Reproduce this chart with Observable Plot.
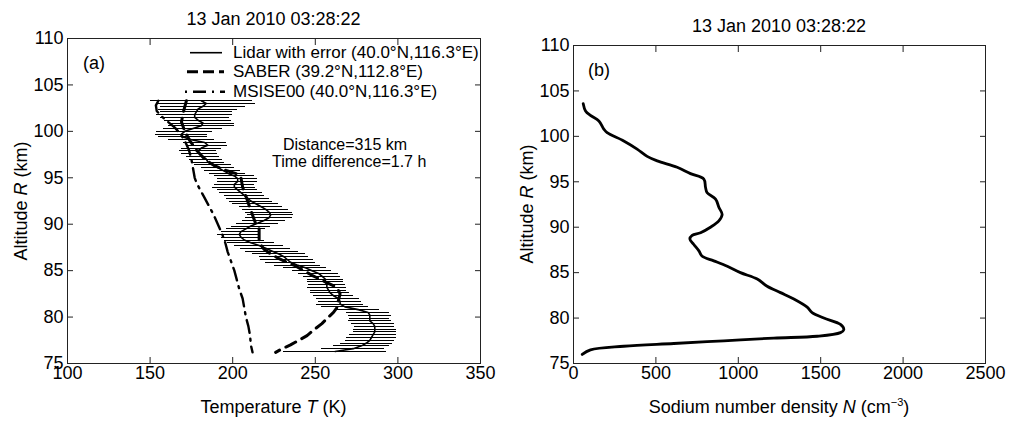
<!DOCTYPE html>
<html><head><meta charset="utf-8">
<script src="https://cdn.jsdelivr.net/npm/d3@7"></script>
<script src="https://cdn.jsdelivr.net/npm/@observablehq/plot@0.6"></script>
<style>
body{margin:0;background:#fff;}
#wrap{position:relative;width:1012px;height:421px;overflow:hidden;font-family:"Liberation Sans",Arial,sans-serif;color:#000;background:#fff;}
.pl{position:absolute;top:0;}
.t{position:absolute;white-space:nowrap;line-height:18px;font-size:18px;}
.s{position:absolute;white-space:nowrap;line-height:16px;font-size:16px;}
.lg{position:absolute;white-space:nowrap;line-height:17px;font-size:17px;}
.rot{position:absolute;white-space:nowrap;font-size:18px;line-height:18px;text-align:center;width:200px;transform:rotate(-90deg);}
</style></head><body><div id="wrap"></div>
<script>
// ---- Panel (a): temperature profiles ----
const lidarAlt = [103.3,103.0,102.7,102.4,102.1,101.8,101.5,101.2,100.9,100.6,100.3,100.0,99.7,99.4,99.1,98.8,98.5,98.2,97.9,97.6,97.3,97.0,96.7,96.4,96.1,95.8,95.5,95.2,94.9,94.6,94.3,94.0,93.7,93.4,93.1,92.8,92.5,92.2,91.9,91.6,91.3,91.0,90.7,90.4,90.1,89.8,89.5,89.2,88.9,88.6,88.3,88.0,87.7,87.4,87.1,86.8,86.5,86.2,85.9,85.6,85.3,85.0,84.7,84.4,84.1,83.8,83.5,83.2,82.9,82.6,82.3,82.0,81.7,81.4,81.1,80.8,80.5,80.2,79.9,79.6,79.3,79.0,78.7,78.4,78.1,77.8,77.5,77.2,76.9,76.6,76.3];
const lidarT = [181,184,182,179,178,177,177,179,182,181,176,171,169,170,175,183,185,181,179,180,182,184,185,188,191,194,197,201,203,203,201,201,203,205,207,209,211,214,217,220,222,223,222,219,215,211,208,205,204,205,207,211,216,220,224,228,231,233,235,239,244,248,252,254,256,256,257,257,258,259,261,264,265,265,268,276,282,283,283,283,285,286,286,286,285,284,283,281,278,273,262];
const lidarErr = [31,30,26,24,22,23,21,20,19,20,18,17,16,15,14,13,12,12,11,11,10,10,10,11,10,11,11,12,12,12,12,13,12,13,12,13,13,14,13,14,14,14,14,13,13,12,12,12,13,12,12,14,15,15,16,16,15,16,15,14,13,12,12,11,11,11,11,12,11,12,12,13,13,14,14,13,13,13,12,13,13,12,13,13,14,15,15,16,17,19,31];

const saberAlt = [103.3,102.0,101.0,100.0,99.0,98.0,97.0,96.3,95.8,95.4,95.0,94.0,93.0,92.0,91.0,90.0,89.5,88.5,88.0,87.3,86.8,86.3,85.5,84.5,83.8,83.2,82.5,81.8,81.0,80.5,80.0,79.3,78.6,78.0,77.5,77.0,76.6,76.2];
const saberT = [172,170,169,171,174,178,183,189,196,203,205,206,208,210,212,214,216,216,216,219,223,228,238,248,256,263,265,264,263,261,258,254,249,245,240,235,230,226];

const msisAlt = [103.3,102.8,102.2,101.6,101.0,100.4,99.8,99.0,98.0,97.0,96.0,95.0,94.5,93.8,93.0,92.0,91.0,90.0,89.0,88.0,87.0,86.0,85.0,84.0,83.0,82.0,81.0,80.0,79.0,78.0,77.0,76.2];
const msisT = [155,153.5,154,157,161,165,168,171,173.5,175,176,177,178,180,182.5,185.5,188.5,191,193.5,195.5,197,199,201,202.5,204,206,207,208,209.5,210.5,211,212];

// ---- Panel (b): sodium number density ----
const naAlt = [103.6,102.8,102.3,101.7,100.8,100.4,99.5,98.6,97.8,97.3,96.6,95.9,95.3,94.4,93.8,93.1,92.2,91.4,90.7,90.0,89.4,89.1,88.7,88.1,87.4,86.8,86.3,85.7,85.0,84.3,83.5,82.8,82.1,81.2,80.6,80.0,79.3,78.7,78.4,78.0,77.8,77.5,77.2,76.9,76.5,76.0];
const naDensity = [59,73,103,154,184,204,305,386,447,508,629,710,791,801,811,862,882,902,882,831,771,720,706,730,761,781,851,933,1013,1115,1175,1256,1337,1418,1448,1519,1620,1640,1620,1479,1215,912,609,305,103,53];

const tempTicks = [100,150,200,250,300,350];
const altTicks = [75,80,85,90,95,100,105,110];
const densTicks = [0,500,1000,1500,2000,2500];

const titleText = "13 Jan 2010 03:28:22";
const legendLabels = ["Lidar with error (40.0°N,116.3°E)","SABER (39.2°N,112.8°E)","MSISE00 (40.0°N,116.3°E)"];

const lidar = lidarAlt.map((a,i)=>({alt:a, T:lidarT[i], err:lidarErr[i]}));
const saber = saberAlt.map((a,i)=>({alt:a, T:saberT[i]}));
const msis = msisAlt.map((a,i)=>({alt:a, T:msisT[i]}));
const sodium = naAlt.map((a,i)=>({alt:a, N:naDensity[i]}));

const fmt = d => String(d);
function boxAxes(xt, yt){
  return [
    Plot.axisX({anchor:"bottom", ticks:xt, tickSize:-6, tickPadding:9, tickFormat:fmt, label:null, stroke:"#222"}),
    Plot.axisX({anchor:"top", ticks:xt, tickSize:-6, tickFormat:()=>"", label:null, stroke:"#222"}),
    Plot.axisY({anchor:"left", ticks:yt, tickSize:-6, tickPadding:10, tickFormat:fmt, label:null, stroke:"#222"}),
    Plot.axisY({anchor:"right", ticks:yt, tickSize:-6, tickFormat:()=>"", label:null, stroke:"#222"}),
    Plot.frame({stroke:"#222", strokeWidth:1})
  ];
}
const style = {fontFamily:"Liberation Sans, Arial, sans-serif", fontSize:"18px", background:"transparent", color:"#000", overflow:"visible"};

const left = Plot.plot({
  width:506, height:421, marginLeft:67, marginRight:26, marginTop:38, marginBottom:58,
  style,
  x:{domain:[100,350]}, y:{domain:[75,110]},
  marks:[
    Plot.ruleY(lidar, {y:"alt", x1:d=>d.T-d.err, x2:d=>d.T+d.err, stroke:"#000", strokeWidth:1, shapeRendering:"crispEdges"}),
    Plot.line(lidar, {x:"T", y:"alt", stroke:"#000", strokeWidth:1.6}),
    Plot.line(msis, {x:"T", y:"alt", stroke:"#000", strokeWidth:2.4, strokeDasharray:"13,6,2,6"}),
    Plot.line(saber, {x:"T", y:"alt", stroke:"#000", strokeWidth:3, strokeDasharray:"11,7"}),
    ...boxAxes(tempTicks, altTicks)
  ]
});
const right = Plot.plot({
  width:506, height:421, marginLeft:67, marginRight:27, marginTop:45, marginBottom:58,
  style,
  x:{domain:[0,2500]}, y:{domain:[75,110]},
  marks:[
    Plot.line(sodium, {x:"N", y:"alt", stroke:"#000", strokeWidth:2.8, curve:"catmull-rom"}),
    ...boxAxes(densTicks, altTicks)
  ]
});
const wrap = document.getElementById("wrap");
left.classList.add("pl"); left.style.left="0px";
right.classList.add("pl"); right.style.left="506px";
wrap.appendChild(left); wrap.appendChild(right);

function addDiv(cls, html, css){
  const d=document.createElement("div"); d.className=cls; d.innerHTML=html;
  Object.assign(d.style, css); wrap.appendChild(d); return d;
}
// titles
addDiv("t", titleText, {left:"73.5px", width:"400px", textAlign:"center", top:"10px"});
addDiv("t", titleText, {left:"579px", width:"400px", textAlign:"center", top:"17px"});
// axis labels
addDiv("t", "Temperature <i>T</i> (K)", {left:"73.5px", width:"400px", textAlign:"center", top:"398px"});
addDiv("t", "Sodium number density <i>N</i> (cm<sup style='font-size:11px;line-height:0;vertical-align:7px'>−3</sup>)", {left:"579px", width:"400px", textAlign:"center", top:"398px"});
addDiv("rot", "Altitude <i>R</i> (km)", {left:(20.8-100)+"px", top:(200.5-9)+"px"});
addDiv("rot", "Altitude <i>R</i> (km)", {left:(526.8-100)+"px", top:(204-9)+"px"});
// panel tags
addDiv("t", "(a)", {left:"83px", top:"54px"});
addDiv("t", "(b)", {left:"588px", top:"61px"});
// annotations
addDiv("s", "Distance=315 km", {left:"283px", top:"137px"});
addDiv("s", "Time difference=1.7 h", {left:"272px", top:"154px"});
// legend
const rows=[52.7,71.7,91.7];
const samples=[
  {x1:190,x2:222,w:1.6,dash:null},
  {x1:187,x2:224,w:3,dash:"11,5"},
  {x1:185,x2:225,w:2.4,dash:"2,6,13,6"}
];
const ns="http://www.w3.org/2000/svg";
const lsvg=document.createElementNS(ns,"svg");
lsvg.setAttribute("width","1012"); lsvg.setAttribute("height","421");
lsvg.style.position="absolute"; lsvg.style.left="0"; lsvg.style.top="0";
samples.forEach((s,i)=>{
  const l=document.createElementNS(ns,"line");
  l.setAttribute("x1",s.x1); l.setAttribute("x2",s.x2);
  l.setAttribute("y1",rows[i]); l.setAttribute("y2",rows[i]);
  l.setAttribute("stroke","#000"); l.setAttribute("stroke-width",s.w);
  if(s.dash) l.setAttribute("stroke-dasharray",s.dash);
  lsvg.appendChild(l);
  addDiv("lg", legendLabels[i], {left:"233px", top:(rows[i]-8.5)+"px"});
});
wrap.appendChild(lsvg);
</script></body></html>
